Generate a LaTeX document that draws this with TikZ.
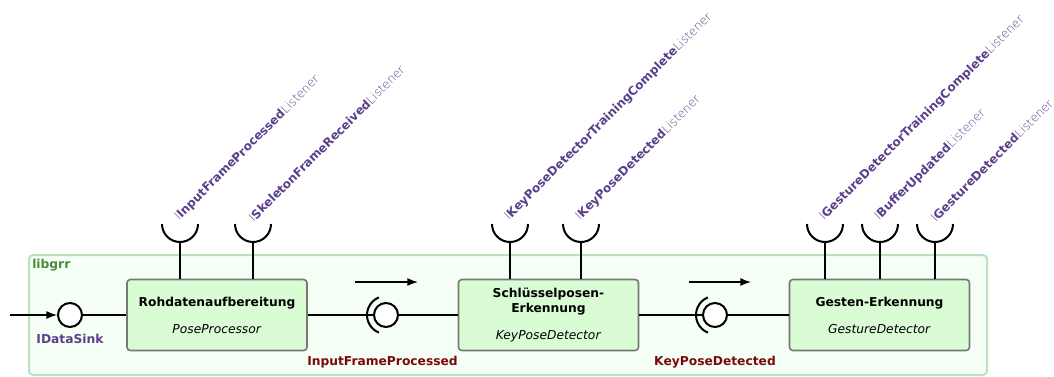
\documentclass[tikz,border=0pt]{standalone}
\usepackage{fontspec}
\setmainfont{DejaVu Sans}
\newfontfamily\thinfont{DejaVu Sans ExtraLight}
\usetikzlibrary{arrows.meta}

\definecolor{ifacepurple}{HTML}{5B3F8C}
\definecolor{eventred}{HTML}{7A0A0A}
\definecolor{libgreen}{HTML}{4B8A3C}
\definecolor{libborder}{HTML}{B9E2BE}
\definecolor{libfill}{HTML}{F5FFF5}
\definecolor{compfill}{HTML}{D9FCD5}
\definecolor{compborder}{HTML}{777777}

\tikzset{
  library/.style={draw=libborder, fill=libfill, line width=1.5pt, rounded corners=3pt},
  component/.style={draw=compborder, fill=compfill, line width=1.2pt, rounded corners=2.5pt,
    minimum width=135pt, minimum height=53.25pt, inner sep=0pt, align=center,
    font=\fontsize{9.2}{11.2}\selectfont},
  wire/.style={line width=1.5pt, black},
  lolli/.style={circle, draw, line width=1.5pt, fill=white, minimum size=18pt, inner sep=0pt},
  socketarc/.style={line width=1.5pt, black},
  flow/.style={line width=1pt, -{Latex[length=8pt,width=6pt]}},
  listener/.style={rotate=45, anchor=south west, inner sep=0pt, text=ifacepurple,
    font=\fontsize{9}{11}\selectfont},
  event/.style={text=eventred, font=\fontsize{9.2}{11}\selectfont\bfseries},
  iface/.style={text=ifacepurple, font=\fontsize{9.2}{11}\selectfont\bfseries},
}
\newcommand{\lsn}[1]{{\thinfont I}\textbf{#1}{\thinfont Listener}}

\begin{document}
\begin{tikzpicture}[x=0.75pt, y=-0.75pt]
\useasboundingbox (0,0) rectangle (1054,376);

% library frame
\draw[library] (29,255) rectangle (987,375);
\node[anchor=west, text=libgreen, font=\fontsize{9.2}{11}\selectfont\bfseries, inner sep=0pt] (lib) at (32,265) {libgrr};

% components
\node[component] (pp) at (217,315) {\textbf{Rohdatenaufbereitung}\\[9pt]\textit{PoseProcessor}};
\node[component] (kpd) at (548.5,315) {\textbf{Schlüsselposen-}\\\textbf{Erkennung}\\[9pt]\textit{KeyPoseDetector}};
\node[component] (gd) at (879.5,315) {\textbf{Gesten-Erkennung}\\[9pt]\textit{GestureDetector}};

% provided input interface
\node[lolli] (sink) at (70,315) {};
\node[iface] (sinklbl) at (70,339) {IDataSink};
\coordinate (src) at (10,315);
\draw[flow] (src) -- (sink.west);
\draw[wire] (sink.east) -- (pp.west);

% assembly connectors between components
\node[lolli] (ifp) at (386,315) {};
\node[lolli] (kpdl) at (715,315) {};
\draw[wire] (pp.east) -- (ifp.west);
\draw[wire] (ifp.east) -- (kpd.west);
\draw[wire] (kpd.east) -- (kpdl.west);
\draw[wire] (kpdl.east) -- (gd.west);
\draw[socketarc] (ifp.center) ++(112:19) arc[start angle=112, end angle=248, radius=19];
\draw[socketarc] (kpdl.center) ++(112:19) arc[start angle=112, end angle=248, radius=19];
\node[event] (ifplbl) at (382.5,362) {InputFrameProcessed};
\node[event] (kpdlbl) at (715,362) {KeyPoseDetected};

% data flow direction
\coordinate (f1a) at (355,282); \coordinate (f1b) at (418,282);
\coordinate (f2a) at (689,282); \coordinate (f2b) at (751,282);
\draw[flow] (f1a) -- (f1b);
\draw[flow] (f2a) -- (f2b);

% required listener interfaces (sockets on top)
\foreach \n/\x/\c/\txt in {
  s1/180/pp/InputFrameProcessed,
  s2/253/pp/SkeletonFrameReceived,
  s3/510/kpd/KeyPoseDetectorTrainingComplete,
  s4/581/kpd/KeyPoseDetected,
  s5/825/gd/GestureDetectorTrainingComplete,
  s6/880/gd/BufferUpdated,
  s7/935/gd/GestureDetected}{
  \coordinate (\n) at (\x,242);
  \draw[wire] (\n) -- (\n |- \c.north);
  \draw[socketarc] (\n) ++(-18,-18) arc[start angle=180, end angle=0, radius=18];
  \node[listener] (\n lbl) at (\x+1,223) {\lsn{\txt}};
}
\end{tikzpicture}
\end{document}
